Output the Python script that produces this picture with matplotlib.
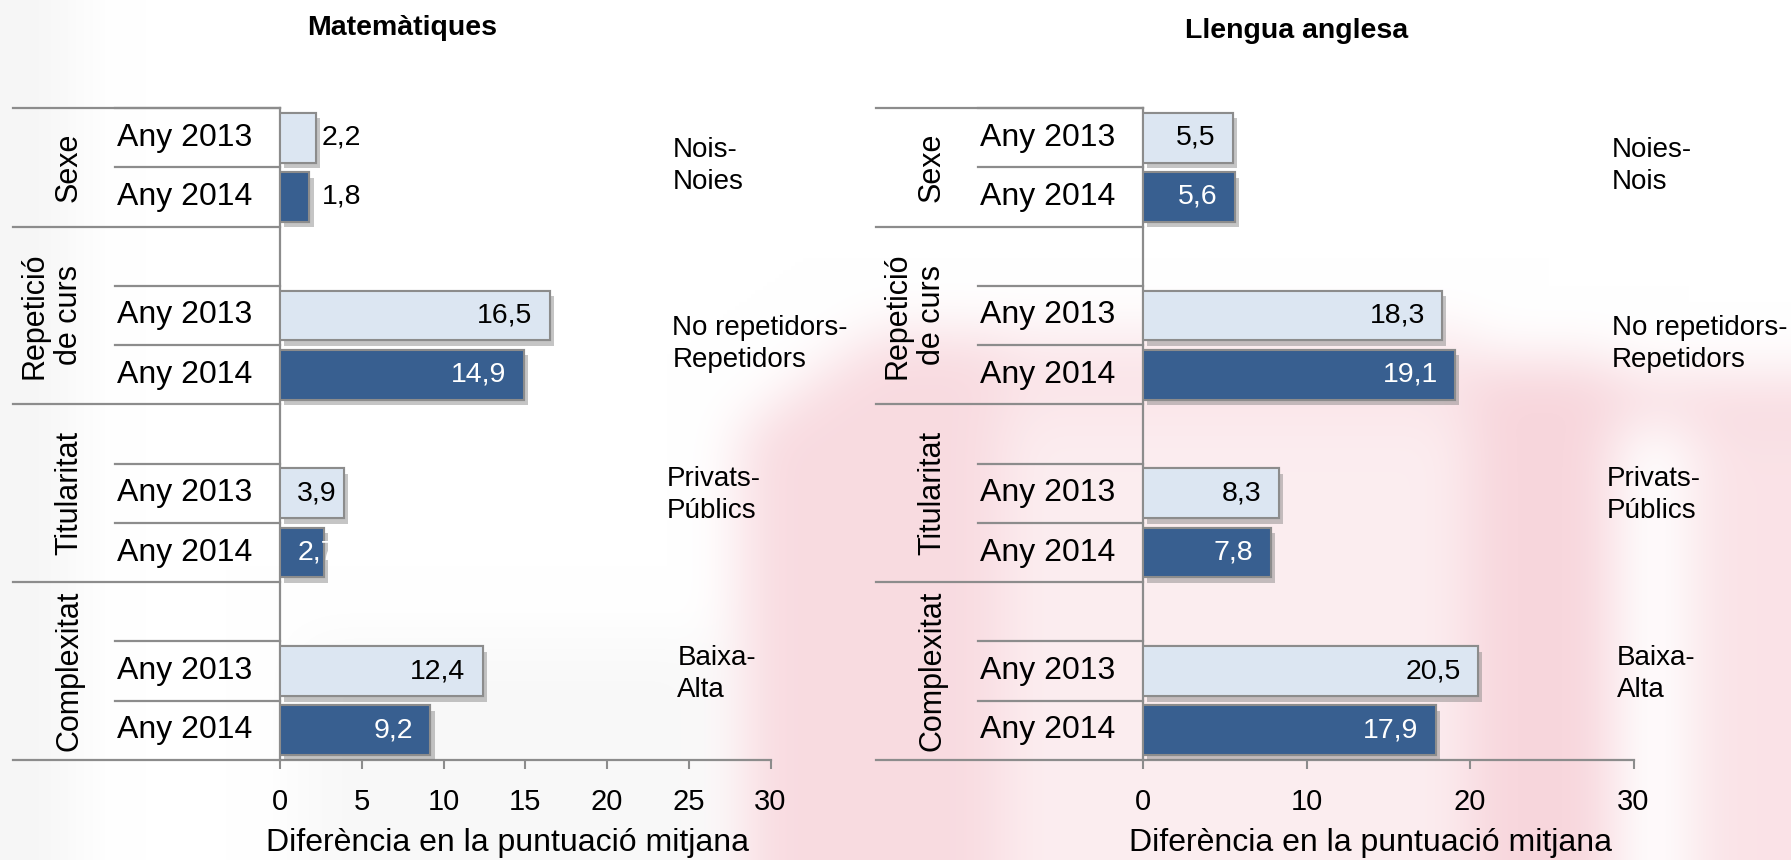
import numpy as np
import matplotlib
matplotlib.use('Agg')
import matplotlib.pyplot as plt
import matplotlib.patheffects as pe
from matplotlib.path import Path

plt.rcParams['font.family'] = ['Liberation Sans', 'DejaVu Sans']

# data
groups = ['Sexe', 'Repetició\nde curs', 'Titularitat', 'Complexitat']
years = ['Any 2013', 'Any 2014']
mat_2013 = [2.2, 16.5, 3.9, 12.4]
mat_2014 = [1.8, 14.9, 2.7, 9.2]
ang_2013 = [5.5, 18.3, 8.3, 20.5]
ang_2014 = [5.6, 19.1, 7.8, 17.9]
mat_notes = ['Nois-\nNoies', 'No repetidors-\nRepetidors', 'Privats-\nPúblics', 'Baixa-\nAlta']
ang_notes = ['Noies-\nNois', 'No repetidors-\nRepetidors', 'Privats-\nPúblics', 'Baixa-\nAlta']
mat_ticks = [0, 5, 10, 15, 20, 25, 30]
ang_ticks = [0, 10, 20, 30]

W, H = 1791, 860
fig = plt.figure(figsize=(W / 100, H / 100), dpi=100)
fig.patch.set_facecolor('white')

# faint blurred watermark in the background
def box(a, r):
    for k in (0, 1):
        pad = [(0, 0), (0, 0)]
        pad[k] = (r, r)
        p = np.pad(a, pad, mode='edge')
        c = np.cumsum(p, axis=k)
        c = np.insert(c, 0, 0, axis=k)
        n = a.shape[k]
        a = (np.take(c, np.arange(2 * r + 1, 2 * r + 1 + n), axis=k)
             - np.take(c, np.arange(0, n), axis=k)) / (2 * r + 1)
    return a

sc = 4
gy, gx = np.mgrid[0:H // sc, 0:W // sc]
pts = np.column_stack([(gx.ravel() + 0.5) * sc, (gy.ravel() + 0.5) * sc])
pink_shapes = [
    ([(740, 430), (880, 330), (1000, 330), (1000, 860), (740, 860)], 0.7),
    ([(1000, 330), (1470, 330), (1470, 420), (1000, 420)], 0.5),
    ([(1000, 420), (1470, 420), (1470, 860), (1000, 860)], 0.35),
    ([(1470, 360), (1610, 360), (1610, 860), (1470, 860)], 0.8),
    ([(1470, 375), (1791, 375), (1791, 425), (1470, 425)], 0.7),
    ([(1690, 425), (1791, 425), (1791, 860), (1690, 860)], 0.55),
]
gray_shapes = [
    ([(0, 0), (70, 0), (70, 860), (0, 860)], 0.35),
    ([(300, 640), (720, 640), (720, 860), (300, 860)], 0.25),
]
pm = np.zeros(gx.shape)
gm = np.zeros(gx.shape)
for poly, w in pink_shapes:
    pm = np.maximum(pm, w * Path(poly).contains_points(pts).reshape(gx.shape))
for poly, w in gray_shapes:
    gm = np.maximum(gm, w * Path(poly).contains_points(pts).reshape(gx.shape))
for _ in range(3):
    pm = box(pm, 6)
    gm = box(gm, 6)
pink = np.array([0.965, 0.80, 0.83])
gray = np.array([0.90, 0.90, 0.90])
img = np.ones(gx.shape + (3,))
img = img * (1 - pm[..., None]) + pink * pm[..., None]
img = img * (1 - gm[..., None]) + gray * gm[..., None]

bg = fig.add_axes([0, 0, 1, 1], zorder=-10)
bg.imshow(img, extent=[0, W, H, 0], aspect='auto', interpolation='bilinear')
bg.axis('off')

light = '#DCE6F2'
dark = '#385F90'
edge = '#8C8C8C'
line_c = '#8C8C8C'

n_rows = 11
starts = [0, 2, 5, 8]
rows13 = [s if g == 0 else s + 1 for g, s in enumerate(starts)]
rows14 = [r + 1 for r in rows13]
note_rows = [0.98, 3.98, 6.53, 9.55]
note_dx = [0, 0, -0.35, 0.3]

shadow = [pe.withSimplePatchShadow(offset=(3, -4), shadow_rgbFace='#7f7f7f', alpha=0.45), pe.Normal()]


def panel(left_px, v13, v14, notes, note_x, ticks):
    ax = fig.add_axes([left_px / W, 1 - 760 / H, 490.5 / W, 652 / H])
    ax.patch.set_alpha(0)
    ax.set_xlim(0, 30)
    ax.set_ylim(n_rows, 0)

    for rows, vals, col in ((rows13, v13, light), (rows14, v14, dark)):
        bars = ax.barh([r + 0.5 for r in rows], vals, height=0.84, color=col,
                       edgecolor=edge, linewidth=1.5, zorder=3)
        for b in bars:
            b.set_path_effects(shadow)

    # value labels
    for rows, vals, txtc in ((rows13, v13, 'black'), (rows14, v14, 'white')):
        for r, v, pair in zip(rows, vals, zip(v13, v14)):
            s = f'{v:.1f}'.replace('.', ',')
            if v < 2.5:
                ax.text(max(pair) + 0.35, r + 0.5, s, ha='left', va='center',
                        fontsize=20.5, color='black', zorder=5)
            elif v < 4.5:
                ax.text(1.05, r + 0.5, s, ha='left', va='center',
                        fontsize=20.5, color=txtc, zorder=5)
            else:
                ax.text(v - 1.05, r + 0.5, s, ha='right', va='center',
                        fontsize=20.5, color=txtc, zorder=5)

    # category table on the left
    for b in starts + [n_rows]:
        ax.plot([-16.35, 0], [b, b], color=line_c, lw=1.6, clip_on=False, zorder=2)
    for r13 in rows13:
        for b in (r13, r13 + 1):
            ax.plot([-10.1, 0], [b, b], color=line_c, lw=1.6, clip_on=False, zorder=2)
    for g, name in enumerate(groups):
        end = starts[g + 1] if g + 1 < len(starts) else n_rows
        xg = -13.98 if '\n' in name else -12.9
        ax.text(xg, (starts[g] + end) / 2, name, rotation=90, ha='center', va='center',
                fontsize=22, multialignment='center', linespacing=1.2)
    for r13, r14 in zip(rows13, rows14):
        ax.text(-9.95, r13 + 0.5, years[0], ha='left', va='center', fontsize=23)
        ax.text(-9.95, r14 + 0.5, years[1], ha='left', va='center', fontsize=23)

    for t, ny, dx in zip(notes, note_rows, note_dx):
        ax.text(note_x + dx, ny, t, ha='left', va='center', fontsize=20, linespacing=1.3,
                clip_on=False)

    for s in ('top', 'right'):
        ax.spines[s].set_visible(False)
    for s in ('left', 'bottom'):
        ax.spines[s].set_color(line_c)
        ax.spines[s].set_linewidth(1.6)
    ax.set_yticks([])
    ax.set_xticks(ticks)
    ax.tick_params(axis='x', direction='out', length=6.5, width=1.5, color=line_c,
                   labelsize=21, pad=14)
    ax.text(0.464, -0.127, 'Diferència en la puntuació mitjana', transform=ax.transAxes,
            ha='center', va='center', fontsize=23)
    return ax


panel(280, mat_2013, mat_2014, mat_notes, 24.0, mat_ticks)
panel(1143, ang_2013, ang_2014, ang_notes, 28.7, ang_ticks)

fig.text(402 / W, 1 - 28 / H, 'Matemàtiques', ha='center', va='center',
         fontsize=20.5, fontweight='bold')
fig.text(1297 / W, 1 - 31 / H, 'Llengua anglesa', ha='center', va='center',
         fontsize=20.5, fontweight='bold')

fig.savefig('out.png', dpi=100)
